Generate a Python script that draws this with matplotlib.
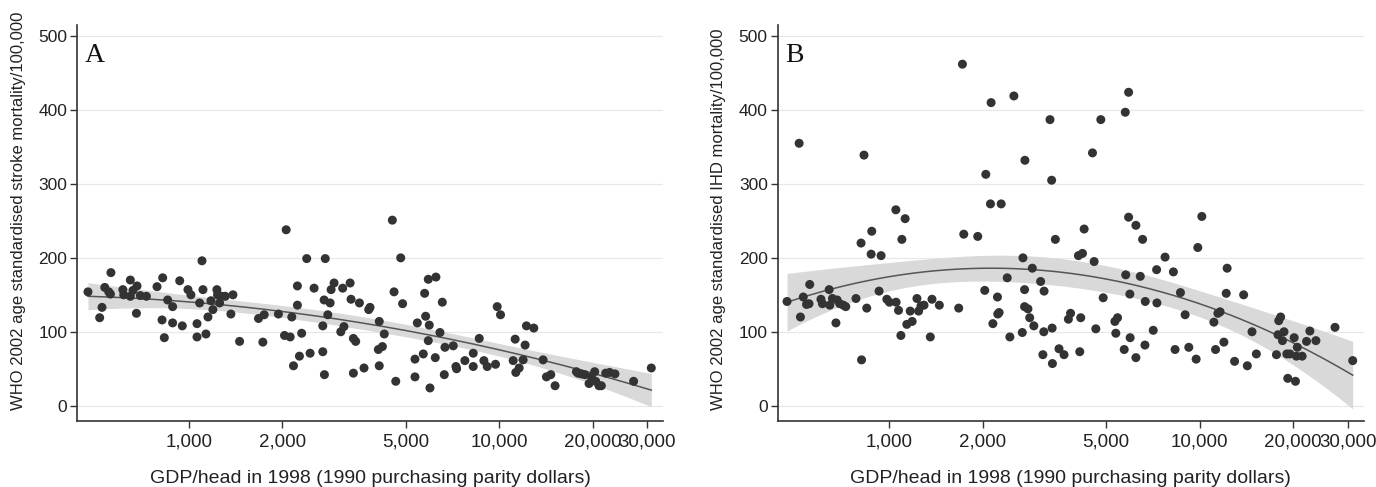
import numpy as np
import matplotlib.pyplot as plt

plt.rcParams['font.family'] = ['Liberation Sans', 'DejaVu Sans']

# panel A: GDP/head (1990 PPP $) vs stroke mortality
gdp_a = [474, 517, 526, 537, 553, 560, 562, 614, 618, 649, 649, 662, 682, 679, 699, 731,
         791, 825, 821, 835, 856, 888, 888, 936, 954, 995, 1017, 1064, 1064, 1085, 1104,
         1112, 1137, 1154, 1180, 1197, 1233, 1239, 1258, 1280, 1312, 1368, 1389, 1459,
         1679, 1751, 1734, 1946, 2061, 2036, 2123, 2149, 2240, 2240, 2176, 2274, 2312,
         2400, 2461, 2535, 2704, 2704, 2737, 2754, 2731, 2806, 2855, 2876, 2940, 3090,
         3163, 3134, 3311, 3334, 3393, 3451, 3548, 3393, 3671, 3838, 3801, 4083, 4110,
         4110, 4207, 4266, 4529, 4587, 4645, 4819, 4887, 5357, 5357, 5450, 5697, 5754,
         5797, 5912, 5956, 5912, 5986, 6257, 6227, 6447, 6560, 6690, 6657, 7115, 7258,
         7294, 7756, 8251, 8251, 8627, 8930, 9152, 9734, 9856, 10102, 11094, 11260,
         11315, 11597, 11945, 12123, 12242, 12927, 13852, 14197, 14662, 15139, 17735,
         17950, 18400, 18860, 19474, 19813, 20306, 20457, 20966, 21330, 22030, 22690,
         23600, 27100, 30900]
stroke = [154, 119, 133, 160, 154, 151, 180, 157, 150, 170, 148, 156, 162, 125, 149, 148,
          161, 173, 116, 92, 143, 134, 112, 169, 108, 157, 150, 111, 93, 139, 196,
          157, 97, 120, 142, 130, 157, 150, 139, 148, 148, 124, 150, 87,
          118, 123, 86, 124, 238, 95, 93, 120, 162, 136, 54, 67, 98,
          199, 71, 159, 108, 73, 42, 199, 143, 123, 139, 157, 166, 100,
          107, 159, 166, 144, 91, 87, 139, 44, 51, 133, 130, 76, 114,
          54, 80, 97, 251, 154, 33, 200, 138, 63, 39, 112, 70, 152,
          121, 171, 109, 88, 24, 174, 65, 99, 140, 79, 42, 81, 53,
          50, 61, 71, 53, 91, 61, 53, 56, 134, 123, 61, 90,
          45, 51, 62, 82, 108, 105, 62, 39, 42, 27, 46,
          44, 43, 42, 30, 39, 46, 33, 27, 27, 44, 45,
          43, 33, 51]

# panel B: GDP/head vs IHD mortality
gdp_b = [469, 518, 529, 542, 552, 555, 603, 610, 641, 644, 657, 674, 680, 693, 712, 725,
         782, 812, 815, 830, 847, 879, 875, 928, 942, 983, 1002, 1051, 1053, 1072, 1091,
         1099, 1126, 1140, 1169, 1186, 1229, 1244, 1266, 1295, 1357, 1374, 1451, 1675,
         1739, 1929, 2032, 2048, 2120, 2158, 2233, 2238, 2260, 2295, 2400, 2448, 2684,
         2697, 2737, 2730, 2730, 2799, 2836, 2891, 2924, 3075, 3127, 3148, 3155, 3337,
         3349, 3356, 3430, 3524, 3658, 3778, 3839, 4070, 4140, 4110,
         4194, 4246, 4517, 4573, 4630, 4890, 5333, 5370, 5440, 5715, 5780, 5904, 5959,
         5972, 6233, 6233, 6438, 6550, 6665, 6680, 7087, 7268, 7284, 7737, 8230, 8333,
         8672, 8978, 9226, 9743, 9863, 10162, 11112, 11250, 11447, 11635, 11968, 12177,
         12260, 12955, 13856, 14240, 14743, 15227, 17672, 17978, 18230, 17880, 18480,
         18690, 19090, 19220, 19530, 20150, 20350, 20490, 20630, 21380, 22090, 22640,
         23680, 27280, 31110,
         513, 1722, 2130, 2522, 3296, 4805, 5760, 5904]
ihd = [141, 120, 147, 137, 138, 164, 144, 138, 157, 136, 145, 112, 143, 138, 136, 134,
       145, 220, 62, 339, 132, 236, 205, 155, 203, 144, 140, 265, 140, 129, 95,
       225, 253, 110, 128, 114, 145, 128, 135, 136, 93, 144, 136, 132,
       232, 229, 156, 313, 273, 111, 147, 124, 126, 273, 173, 93, 99,
       200, 332, 157, 134, 131, 119, 186, 108, 168, 69, 100, 155, 305,
       105, 57, 225, 77, 69, 117, 125, 203, 119, 73,
       206, 239, 342, 195, 104, 146, 114, 98, 119, 76, 177, 255, 151,
       92, 244, 65, 175, 225, 82, 141, 102, 184, 139, 201, 181, 76,
       153, 123, 79, 63, 214, 256, 113, 76, 125, 127, 86, 152,
       186, 60, 150, 54, 100, 70, 69, 115, 120, 96, 88,
       100, 70, 37, 70, 92, 33, 67, 79, 67, 87, 101,
       88, 106, 61,
       355, 462, 410, 419, 387, 387, 397, 424]

xticks = [1000, 2000, 5000, 10000, 20000, 30000]
yticks = [0, 100, 200, 300, 400, 500]
xlab = "GDP/head in 1998 (1990 purchasing parity dollars)"
ylab_a = "WHO 2002 age standardised stroke mortality/100,000"
ylab_b = "WHO 2002 age standardised IHD mortality/100,000"


def qfitci(x, y, n=200, t=1.976):
    "quadratic fit of y on log10(x) with 95% CI of the mean"
    lx = np.log10(np.asarray(x, float))
    y = np.asarray(y, float)
    X = np.column_stack([np.ones_like(lx), lx, lx**2])
    beta = np.linalg.lstsq(X, y, rcond=None)[0]
    res = y - X @ beta
    s2 = res @ res / (len(y) - 3)
    cov = s2 * np.linalg.inv(X.T @ X)
    g = np.linspace(lx.min(), lx.max(), n)
    G = np.column_stack([np.ones_like(g), g, g**2])
    fit = G @ beta
    se = np.sqrt(np.einsum('ij,jk,ik->i', G, cov, G))
    return 10**g, fit, fit - t*se, fit + t*se


fig = plt.figure(figsize=(13.76, 4.87), dpi=100)
dark = '#333333'

panels = [(gdp_a, stroke, 'A', 77, ylab_a, 19, 211),
          (gdp_b, ihd, 'B', 777.5, ylab_b, 719, 219)]
for x, y, letter, left_px, ylab, ylx, yly in panels:
    ax = fig.add_axes([left_px/1376, 1-420.7/487, 586/1376, 395.7/487])
    gx, fit, lo, hi = qfitci(x, y)
    ax.fill_between(gx, lo, hi, color='#d9d9d9', lw=0, zorder=1)
    ax.plot(gx, fit, color='#555555', lw=1.1, zorder=2)
    ax.scatter(x, y, s=42, color=dark, edgecolors='none', zorder=3)

    ax.set_xscale('log')
    ax.set_xlim(437, 33700)
    ax.set_ylim(-20.3, 515)
    ax.set_xticks(xticks)
    ax.set_xticklabels([f"{v:,}" for v in xticks])
    ax.xaxis.set_minor_locator(plt.NullLocator())
    ax.set_yticks(yticks)
    ax.grid(axis='y', color='#e8e8e8', lw=0.9, zorder=0)
    ax.set_axisbelow(True)
    for s in ['top', 'right']:
        ax.spines[s].set_visible(False)
    for s in ['left', 'bottom']:
        ax.spines[s].set_color(dark)
        ax.spines[s].set_linewidth(1.2)
    ax.tick_params(axis='x', direction='out', length=5, width=1, color=dark,
                   labelsize=13.5, pad=4, labelcolor='#222222')
    ax.tick_params(axis='y', direction='out', length=5, width=1, color=dark,
                   labelsize=12.5, pad=2, labelcolor='#222222')

    ax.text(0.0137, 0.906, letter, transform=ax.transAxes, fontsize=20,
            family=['Liberation Serif', 'DejaVu Serif'], va='baseline', color='#111111')
    fig.text(ylx/1376, 1-yly/487, ylab, rotation=90, ha='center', va='center',
             fontsize=12, color='#222222')
    fig.text((left_px+293)/1376, 1-483/487, xlab, ha='center', va='baseline',
             fontsize=14, color='#222222')

plt.savefig('out.png', dpi=100)
